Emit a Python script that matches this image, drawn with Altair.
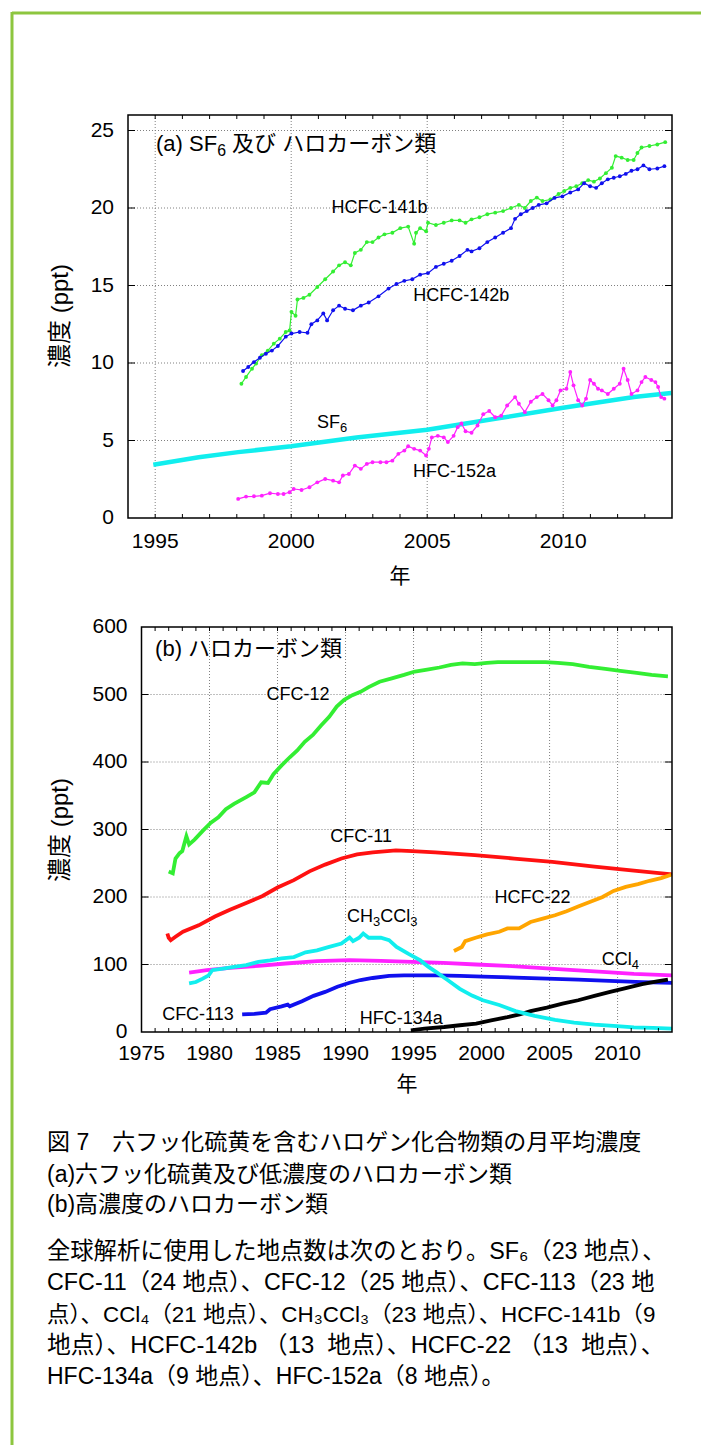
import altair as alt
import pandas as pd

FONT = "'Liberation Sans', 'Noto Sans CJK JP', sans-serif"

# ---------------- panel (a) data (year, ppt) ----------------
hcfc141b_year = [1998.17, 1998.34, 1998.56, 1998.71, 1998.92, 1999.14, 1999.36, 1999.58, 1999.80, 1999.94,
                 2000.01, 2000.16, 2000.23, 2000.45, 2000.67, 2000.96, 2001.25, 2001.54, 2001.76, 2001.98,
                 2002.19, 2002.34, 2002.56, 2002.78, 2002.99, 2003.21, 2003.43, 2003.72, 2004.01, 2004.30,
                 2004.52, 2004.59, 2004.74, 2004.96, 2005.03, 2005.32, 2005.61, 2005.90, 2006.19, 2006.41,
                 2006.63, 2006.92, 2007.21, 2007.50, 2007.79, 2008.08, 2008.37, 2008.59, 2008.81, 2009.03,
                 2009.24, 2009.53, 2009.83, 2010.04, 2010.26, 2010.48, 2010.70, 2010.92, 2011.13, 2011.35,
                 2011.57, 2011.79, 2011.93, 2012.15, 2012.37, 2012.59, 2012.73, 2012.88, 2013.17, 2013.46,
                 2013.75]
hcfc141b_ppt = [8.66, 9.10, 9.63, 9.96, 10.5, 10.8, 11.25, 11.57, 12.0, 12.1,
                13.3, 13.05, 14.1, 14.2, 14.4, 14.9, 15.4, 15.9, 16.3, 16.5,
                16.3, 17.1, 17.3, 17.8, 17.8, 18.1, 18.3, 18.4, 18.7, 18.8,
                17.7, 18.4, 18.7, 18.5, 19.05, 18.9, 19.05, 19.2, 19.2, 19.05,
                19.27, 19.4, 19.6, 19.7, 19.8, 20.0, 20.2, 20.0, 20.45, 20.67,
                20.45, 20.55, 20.9, 21.1, 21.3, 21.4, 21.6, 21.8, 21.7, 21.9,
                22.25, 22.6, 23.35, 23.25, 23.1, 23.1, 23.55, 23.9, 24.0, 24.1,
                24.25]

hcfc142b_year = [1998.23, 1998.42, 1998.63, 1998.85, 1999.07, 1999.29, 1999.51, 1999.80, 2000.01, 2000.31,
                 2000.60, 2000.74, 2000.96, 2001.18, 2001.32, 2001.54, 2001.76, 2001.98, 2002.27, 2002.56,
                 2002.85, 2003.21, 2003.58, 2003.87, 2004.16, 2004.45, 2004.74, 2005.03, 2005.32, 2005.61,
                 2005.90, 2006.19, 2006.48, 2006.63, 2006.92, 2007.21, 2007.50, 2007.79, 2008.08, 2008.23,
                 2008.44, 2008.66, 2008.88, 2009.10, 2009.39, 2009.68, 2009.97, 2010.26, 2010.55, 2010.77,
                 2010.99, 2011.21, 2011.42, 2011.64, 2011.86, 2012.08, 2012.30, 2012.51, 2012.73, 2012.95,
                 2013.17, 2013.46, 2013.72]
hcfc142b_ppt = [9.48, 9.74, 10.06, 10.34, 10.6, 10.8, 11.1, 11.7, 11.9, 12.0,
                11.95, 12.5, 12.75, 13.2, 12.75, 13.4, 13.7, 13.5, 13.4, 13.7,
                13.9, 14.3, 14.8, 15.1, 15.3, 15.4, 15.7, 15.8, 16.2, 16.4,
                16.6, 16.9, 17.3, 17.2, 17.4, 17.8, 18.1, 18.4, 18.7, 19.3,
                19.6, 19.8, 20.0, 20.2, 20.3, 20.65, 20.75, 21.0, 21.2, 21.6,
                21.4, 21.3, 21.6, 21.85, 21.95, 22.05, 22.2, 22.4, 22.5, 22.75,
                22.5, 22.55, 22.7]

hfc152a_year = [1998.05, 1998.34, 1998.63, 1998.92, 1999.22, 1999.51, 1999.72, 1999.94, 2000.09, 2000.38,
                2000.67, 2000.96, 2001.25, 2001.54, 2001.76, 2001.90, 2002.12, 2002.34, 2002.56, 2002.78,
                2002.99, 2003.28, 2003.50, 2003.72, 2003.94, 2004.16, 2004.30, 2004.52, 2004.74, 2004.96,
                2005.06, 2005.17, 2005.39, 2005.61, 2005.76, 2005.97, 2006.12, 2006.26, 2006.41, 2006.63,
                2006.85, 2007.06, 2007.28, 2007.50, 2007.72, 2007.94, 2008.23, 2008.37, 2008.59, 2008.81,
                2009.03, 2009.24, 2009.46, 2009.61, 2009.75, 2009.90, 2010.12, 2010.26, 2010.38, 2010.55,
                2010.70, 2010.84, 2010.99, 2011.13, 2011.28, 2011.42, 2011.64, 2011.86, 2012.08, 2012.22,
                2012.37, 2012.51, 2012.73, 2012.88, 2013.02, 2013.24, 2013.39, 2013.49, 2013.60, 2013.72]
hfc152a_ppt = [1.23, 1.38, 1.40, 1.44, 1.60, 1.55, 1.55, 1.66, 1.87, 1.81,
               1.98, 2.30, 2.52, 2.41, 2.30, 2.74, 2.84, 3.38, 3.17, 3.49,
               3.60, 3.60, 3.60, 3.70, 4.14, 4.35, 4.63, 4.46, 4.35, 4.03,
               4.46, 5.20, 5.30, 5.20, 4.90, 5.30, 5.86, 6.10, 5.60, 5.50,
               5.97, 6.70, 6.90, 6.50, 6.60, 7.26, 7.80, 7.37, 6.83, 7.50,
               7.80, 8.00, 7.60, 7.26, 7.60, 8.23, 8.34, 9.42, 8.56, 7.60,
               7.26, 7.70, 8.90, 8.66, 8.34, 8.23, 8.00, 8.34, 8.66, 9.63,
               8.90, 8.00, 8.23, 8.77, 9.10, 8.90, 8.77, 8.45, 7.80, 7.70]

sf6_year = [1994.93, 1996.6, 1998.05, 2000.0, 2002.4, 2005.0, 2007.5, 2010.0, 2012.6, 2013.97]
sf6_ppt = [3.43, 3.92, 4.25, 4.63, 5.20, 5.69, 6.40, 7.11, 7.80, 8.06]

# ---------------- panel (b) data (year, ppt) ----------------
cfc12_year = [1977.0, 1977.3, 1977.5, 1977.8, 1978.0, 1978.3, 1978.5, 1978.9, 1979.5, 1980.1,
              1980.65, 1981.2, 1981.8, 1982.7, 1983.3, 1983.8, 1984.3, 1984.7, 1985.3, 1985.9,
              1986.45, 1987.0, 1987.6, 1988.2, 1988.8, 1989.35, 1989.9, 1990.5, 1991.1, 1991.7,
              1992.5, 1993.4, 1994.3, 1995.1, 1996.0, 1996.9, 1997.75, 1998.6, 1999.5, 2000.4,
              2001.2, 2002.1, 2003.0, 2003.8, 2004.7, 2005.6, 2006.7, 2007.9, 2009.1, 2010.2,
              2011.4, 2012.5, 2013.7]
cfc12_ppt = [237.6, 235, 257, 265, 268, 290, 278, 285, 298, 310,
             318, 330, 338, 348, 355, 370, 369, 382, 395, 407,
             417, 430, 440, 454, 467, 482, 492, 499, 504, 511,
             519, 524, 529, 534, 537, 540, 544, 546, 545, 547,
             548, 548, 548, 548, 548, 547, 545, 541, 538, 535,
             532, 529, 527]

cfc11_year = [1976.9, 1977.0, 1977.15, 1977.5, 1978.05, 1979.2, 1980.4, 1981.5, 1982.7, 1983.9,
              1985.0, 1986.2, 1987.35, 1988.5, 1989.7, 1990.85, 1992.0, 1993.7, 1994.9, 1996.6,
              1999.5, 2002.4, 2005.2, 2008.3, 2011.2, 2014.0]
cfc11_ppt = [146, 139.6, 136, 141, 148.5, 158, 171, 181, 191, 201.5,
             214, 225, 238, 248, 257, 263, 266, 269, 268, 266,
             262, 257, 252, 245, 239, 233.6]

hcfc22_year = [1997.97, 1998.55, 1998.8, 1999.56, 2000.4, 2001.3, 2001.9, 2002.76, 2003.6, 2004.5,
               2005.4, 2006.25, 2007.1, 2008.0, 2008.9, 2009.7, 2010.6, 2011.5, 2012.35, 2013.2, 2013.95]
hcfc22_ppt = [120, 126, 134.6, 139.6, 144.6, 148.5, 153.5, 153.5, 163, 168,
              173, 179, 186, 193, 200, 209, 215, 219, 224, 228, 233]

ch3ccl3_year = [1978.5, 1979.0, 1979.5, 1979.94, 1980.2, 1981.0, 1981.8, 1982.7, 1983.6, 1984.45,
                1985.3, 1986.2, 1987.06, 1987.9, 1988.8, 1989.7, 1990.3, 1990.55, 1991.0, 1991.3, 1991.7,
                1992.6, 1993.2, 1993.75, 1994.6, 1995.5, 1996.1, 1996.65, 1997.5, 1998.4, 1999.3,
                2000.1, 2001.3, 2002.5, 2003.9, 2005.4, 2006.8, 2008.3, 2009.7, 2011.2, 2012.6, 2014.0]
ch3ccl3_ppt = [72, 74, 79, 84, 91.6, 94, 96.5, 99, 104, 106,
               109, 111, 118, 121, 126, 131, 140, 134.6, 139.6, 146, 139.6,
               139.6, 136, 126, 116, 106, 96.5, 89, 77, 64, 54,
               47, 40, 31, 24, 18, 14, 11, 9, 7, 6, 5]

ccl4_year = [1978.5, 1979.8, 1981.5, 1983.6, 1985.6, 1987.9, 1990.3, 1992.6, 1994.9, 1997.2,
             1999.6, 2001.9, 2004.2, 2006.5, 2008.9, 2011.2, 2014.0]
ccl4_ppt = [88, 91.6, 95, 98, 101.5, 105, 106.4, 105.4, 104, 102.5,
            100, 98, 95, 92, 89, 86, 84]

cfc113_year = [1982.4, 1983.3, 1984.15, 1984.45, 1985.3, 1985.75, 1985.9, 1986.8, 1987.65, 1988.5,
               1989.4, 1990.3, 1991.1, 1992.0, 1993.2, 1994.3, 1995.5, 1996.7, 1998.4, 2000.1,
               2002.5, 2004.8, 2007.1, 2009.4, 2011.8, 2014.0]
cfc113_ppt = [26, 27, 28.7, 33.7, 38, 40.6, 38, 45.5, 53.5, 59.4,
              67, 73, 77, 80, 83, 84, 84, 84, 83, 82,
              80.7, 79, 77.7, 75.7, 74, 72.8]

hfc134a_year = [1994.8, 1995.8, 1997.25, 1998.4, 1999.6, 2000.7, 2001.9, 2002.8, 2003.6, 2004.8,
                2005.95, 2007.1, 2008.3, 2009.45, 2010.6, 2011.8, 2012.9, 2013.7]
hfc134a_ppt = [2.5, 5, 7.4, 10, 12.4, 17.3, 22, 26, 31, 36,
               42, 47, 53.5, 59.4, 65, 71, 75, 77.7]

# ---------------- ticks and labels ----------------
xa_labels = [1995, 2000, 2005, 2010]
xa_ticks = [1995, 1996, 1997, 1998, 1999, 2000, 2001, 2002, 2003, 2004,
            2005, 2006, 2007, 2008, 2009, 2010, 2011, 2012, 2013]
ya_labels = [0, 5, 10, 15, 20, 25]
ya_grid = [5, 10, 15, 20, 25]

xb_labels = [1975, 1980, 1985, 1990, 1995, 2000, 2005, 2010]
xb_grid = [1980, 1985, 1990, 1995, 2000, 2005, 2010]
xb_ticks = [1976, 1977, 1978, 1979, 1980, 1981, 1982, 1983, 1984, 1985, 1986, 1987, 1988,
            1989, 1990, 1991, 1992, 1993, 1994, 1995, 1996, 1997, 1998, 1999, 2000, 2001,
            2002, 2003, 2004, 2005, 2006, 2007, 2008, 2009, 2010, 2011, 2012, 2013]
yb_labels = [0, 100, 200, 300, 400, 500, 600]
yb_grid = [100, 200, 300, 400, 500]

# series labels: list of (pieces, year, ppt); a piece is (text, is_subscript)
labels_a = [([("HCFC-141b", False)], 2003.25, 20.0),
            ([("HCFC-142b", False)], 2006.25, 14.3),
            ([("SF", False), ("6", True)], 2001.5, 6.1),
            ([("HFC-152a", False)], 2006.0, 3.0)]
labels_b = [([("CFC-12", False)], 1986.5, 500),
            ([("CFC-11", False)], 1991.2, 289),
            ([("HCFC-22", False)], 2003.75, 199),
            ([("CH", False), ("3", True), ("CCl", False), ("3", True)], 1992.7, 171),
            ([("CCl", False), ("4", True)], 2010.2, 106),
            ([("CFC-113", False)], 1979.2, 25),
            ([("HFC-134a", False)], 1994.1, 19)]

title_a = [("(a) SF", False), ("6", True), (" 及び ハロカーボン類", False)]
title_b = [("(b) ハロカーボン類", False)]
ylab = "濃度 (ppt)"
xlab = "年"

caption_lines = [
    "図 7\u3000六フッ化硫黄を含むハロゲン化合物類の月平均濃度",
    "(a)六フッ化硫黄及び低濃度のハロカーボン類",
    "(b)高濃度のハロカーボン類",
    "全球解析に使用した地点数は次のとおり。SF₆（23 地点）、",
    "CFC-11（24 地点）、CFC-12（25 地点）、CFC-113（23 地",
    "点）、CCl₄（21 地点）、CH₃CCl₃（23 地点）、HCFC-141b（9",
    "地点）、HCFC-142b\u00a0（13\u00a0 地点）、HCFC-22\u00a0（13\u00a0 地点）、",
    "HFC-134a（9 地点）、HFC-152a（8 地点）。",
]
caption_y = [1143, 1175, 1205, 1252, 1283, 1315, 1346, 1377]
caption_size = [23, 23, 23, 23.3, 23.3, 22.4, 23.8, 23]

GREEN = "#33ee33"
BLUE = "#1010ee"
MAGENTA = "#ff22ff"
CYAN = "#11eeee"
RED = "#ff1111"
ORANGE = "#ffa500"
GRIDC = "#808080"

# approximate advance widths (em) of Liberation Sans glyphs, for placing subscripts
ADV = {"S": .667, "F": .611, "C": .722, "H": .722, "l": .222, "(": .333, ")": .333, " ": .278,
       "a": .556, "b": .556, "-": .333}


def text_width(s, size):
    w = 0.0
    for ch in s:
        if ord(ch) > 0x2e80:
            w += 1.0
        else:
            w += ADV.get(ch, .556)
    return w * size


def series_df(years, vals):
    return pd.DataFrame({"year": years, "ppt": vals})


ONE = pd.DataFrame({"k": [0]})


def make_panel(xs, ys, x0, x1, y0, y1, xlabels, xgrid, ygrid, ylabels, xticks, series_layers,
               labels, title, title_x, title_y, lab_dy):
    def X(f):
        return alt.X(f, scale=xs, axis=None)

    def Y(f):
        return alt.Y(f, scale=ys, axis=None)

    def XD(v):
        return alt.X(datum=v, scale=xs, axis=None)

    def YD(v):
        return alt.Y(datum=v, scale=ys, axis=None)

    def rich(pieces, xd, yd, size, align):
        sub_size = size * 0.72
        widths = [text_width(t, sub_size if s else size) for t, s in pieces]
        off = -sum(widths) / 2 if align == "center" else 0.0
        out = []
        for (t, s), w in zip(pieces, widths):
            fs = sub_size if s else size
            lead = text_width(t[:len(t) - len(t.lstrip(" "))], fs)
            out.append(alt.Chart(ONE).mark_text(
                font=FONT, fontSize=fs, color="black", align="left",
                baseline="middle", dx=off + lead, dy=size * 0.28 if s else 0).encode(
                x=XD(xd), y=YD(yd), text=alt.value(t.lstrip(" "))))
            off += w
        return out

    layers = []
    layers.append(alt.Chart(pd.DataFrame({"g": xgrid})).mark_rule(
        color=GRIDC, strokeWidth=1, strokeDash=[1, 2]).encode(
        x=X("g:Q"), y=YD(y0), y2=alt.datum(y1)))
    layers.append(alt.Chart(pd.DataFrame({"g": ygrid})).mark_rule(
        color=GRIDC, strokeWidth=1, strokeDash=[1, 2]).encode(
        y=Y("g:Q"), x=XD(x0), x2=alt.datum(x1)))
    for yrs, vals, col, kind in series_layers:
        d = series_df(yrs, vals)
        if kind == "band":
            layers.append(alt.Chart(d).mark_line(color=col, strokeWidth=4.5).encode(
                x=X("year:Q"), y=Y("ppt:Q")))
        elif kind == "dots":
            layers.append(alt.Chart(d).mark_line(color=col, strokeWidth=1.2).encode(
                x=X("year:Q"), y=Y("ppt:Q")))
            layers.append(alt.Chart(d).mark_circle(color=col, size=15, opacity=1).encode(
                x=X("year:Q"), y=Y("ppt:Q")))
        else:
            layers.append(alt.Chart(d).mark_line(color=col, strokeWidth=3.8).encode(
                x=X("year:Q"), y=Y("ppt:Q")))
    tdf = pd.DataFrame({"t": xticks})
    layers.append(alt.Chart(tdf).mark_rule(color="black", y2Offset=-4).encode(
        x=X("t:Q"), y=YD(y0), y2=alt.datum(y0)))
    layers.append(alt.Chart(tdf).mark_rule(color="black", y2Offset=4).encode(
        x=X("t:Q"), y=YD(y1), y2=alt.datum(y1)))
    ydf = pd.DataFrame({"t": ygrid})
    layers.append(alt.Chart(ydf).mark_rule(color="black", x2Offset=7).encode(
        y=Y("t:Q"), x=XD(x0), x2=alt.datum(x0)))
    layers.append(alt.Chart(ydf).mark_rule(color="black", x2Offset=-7).encode(
        y=Y("t:Q"), x=XD(x1), x2=alt.datum(x1)))
    layers.append(alt.Chart(ONE).mark_rect(fillOpacity=0, stroke="black", strokeWidth=1.5).encode(
        x=XD(x0), x2=alt.datum(x1), y=YD(y0), y2=alt.datum(y1)))
    layers.append(alt.Chart(pd.DataFrame({"v": xlabels})).mark_text(
        font=FONT, fontSize=21, color="black", align="center", baseline="middle", dy=lab_dy).encode(
        x=X("v:Q"), y=YD(y0), text=alt.Text("v:Q", format="d")))
    layers.append(alt.Chart(pd.DataFrame({"v": ylabels})).mark_text(
        font=FONT, fontSize=21, color="black", align="right", baseline="middle", dx=-14).encode(
        y=Y("v:Q"), x=XD(x0), text=alt.Text("v:Q", format="d")))
    for pieces, yr, v in labels:
        layers += rich(pieces, yr, v, 18, "center")
    layers += rich(title, title_x, title_y, 22, "left")
    return alt.layer(*layers)


# ---------- panel (a) ----------
xa = alt.Scale(domain=[1994, 2014], range=[128, 672], nice=False, zero=False)
ya = alt.Scale(domain=[0, 26], range=[518, 115], nice=False, zero=False)
series_a = [(sf6_year, sf6_ppt, CYAN, "band"),
            (hfc152a_year, hfc152a_ppt, MAGENTA, "dots"),
            (hcfc141b_year, hcfc141b_ppt, GREEN, "dots"),
            (hcfc142b_year, hcfc142b_ppt, BLUE, "dots")]
panel_a = make_panel(xa, ya, 1994, 2014, 0, 26, xa_labels, xa_labels, ya_grid, ya_labels, xa_ticks,
                     series_a, labels_a, title_a, 1995.03, 24.1, 24)

# ---------- panel (b) ----------
xb = alt.Scale(domain=[1975, 2014], range=[141.5, 672], nice=False, zero=False)
yb = alt.Scale(domain=[0, 600], range=[1032, 627], nice=False, zero=False)
series_b = [(cfc11_year, cfc11_ppt, RED, "line"),
            (cfc12_year, cfc12_ppt, GREEN, "line"),
            (ccl4_year, ccl4_ppt, MAGENTA, "line"),
            (cfc113_year, cfc113_ppt, BLUE, "line"),
            (hfc134a_year, hfc134a_ppt, "black", "line"),
            (ch3ccl3_year, ch3ccl3_ppt, CYAN, "line"),
            (hcfc22_year, hcfc22_ppt, ORANGE, "line")]
panel_b = make_panel(xb, yb, 1975, 2014, 0, 600, xb_labels, xb_grid, yb_grid, yb_labels, xb_ticks,
                     series_b, labels_b, title_b, 1976.0, 567, 22)

# ---------- axis titles, caption and frame ----------
extras = []
for yc in [316, 830]:
    extras.append(alt.Chart(ONE).mark_text(font=FONT, fontSize=24, color="black", angle=270,
                                           align="center", baseline="middle").encode(
        x=alt.value(61), y=alt.value(yc), text=alt.value(ylab)))
for xc, yc in [(400, 577), (407, 1085)]:
    extras.append(alt.Chart(ONE).mark_text(font=FONT, fontSize=21, color="black",
                                           align="center", baseline="middle").encode(
        x=alt.value(xc), y=alt.value(yc), text=alt.value(xlab)))
for line, yc, fs in zip(caption_lines, caption_y, caption_size):
    extras.append(alt.Chart(ONE).mark_text(font=FONT, fontSize=fs, color="black",
                                           align="left", baseline="middle").encode(
        x=alt.value(47), y=alt.value(yc), text=alt.value(line)))
extras.append(alt.Chart(ONE).mark_rule(color="#8dc63f", strokeWidth=3).encode(
    x=alt.value(12), x2=alt.value(701), y=alt.value(13)))
extras.append(alt.Chart(ONE).mark_rule(color="#8dc63f", strokeWidth=3).encode(
    x=alt.value(12), y=alt.value(12), y2=alt.value(1445)))

chart = alt.layer(panel_a, panel_b, *extras).resolve_scale(
    x="independent", y="independent").properties(
    width=701, height=1445, padding=0, autosize=alt.AutoSizeParams(type="none"),
    background="white").configure_view(stroke=None)

chart.save("out.html", embed_options={"renderer": "svg", "actions": False})
